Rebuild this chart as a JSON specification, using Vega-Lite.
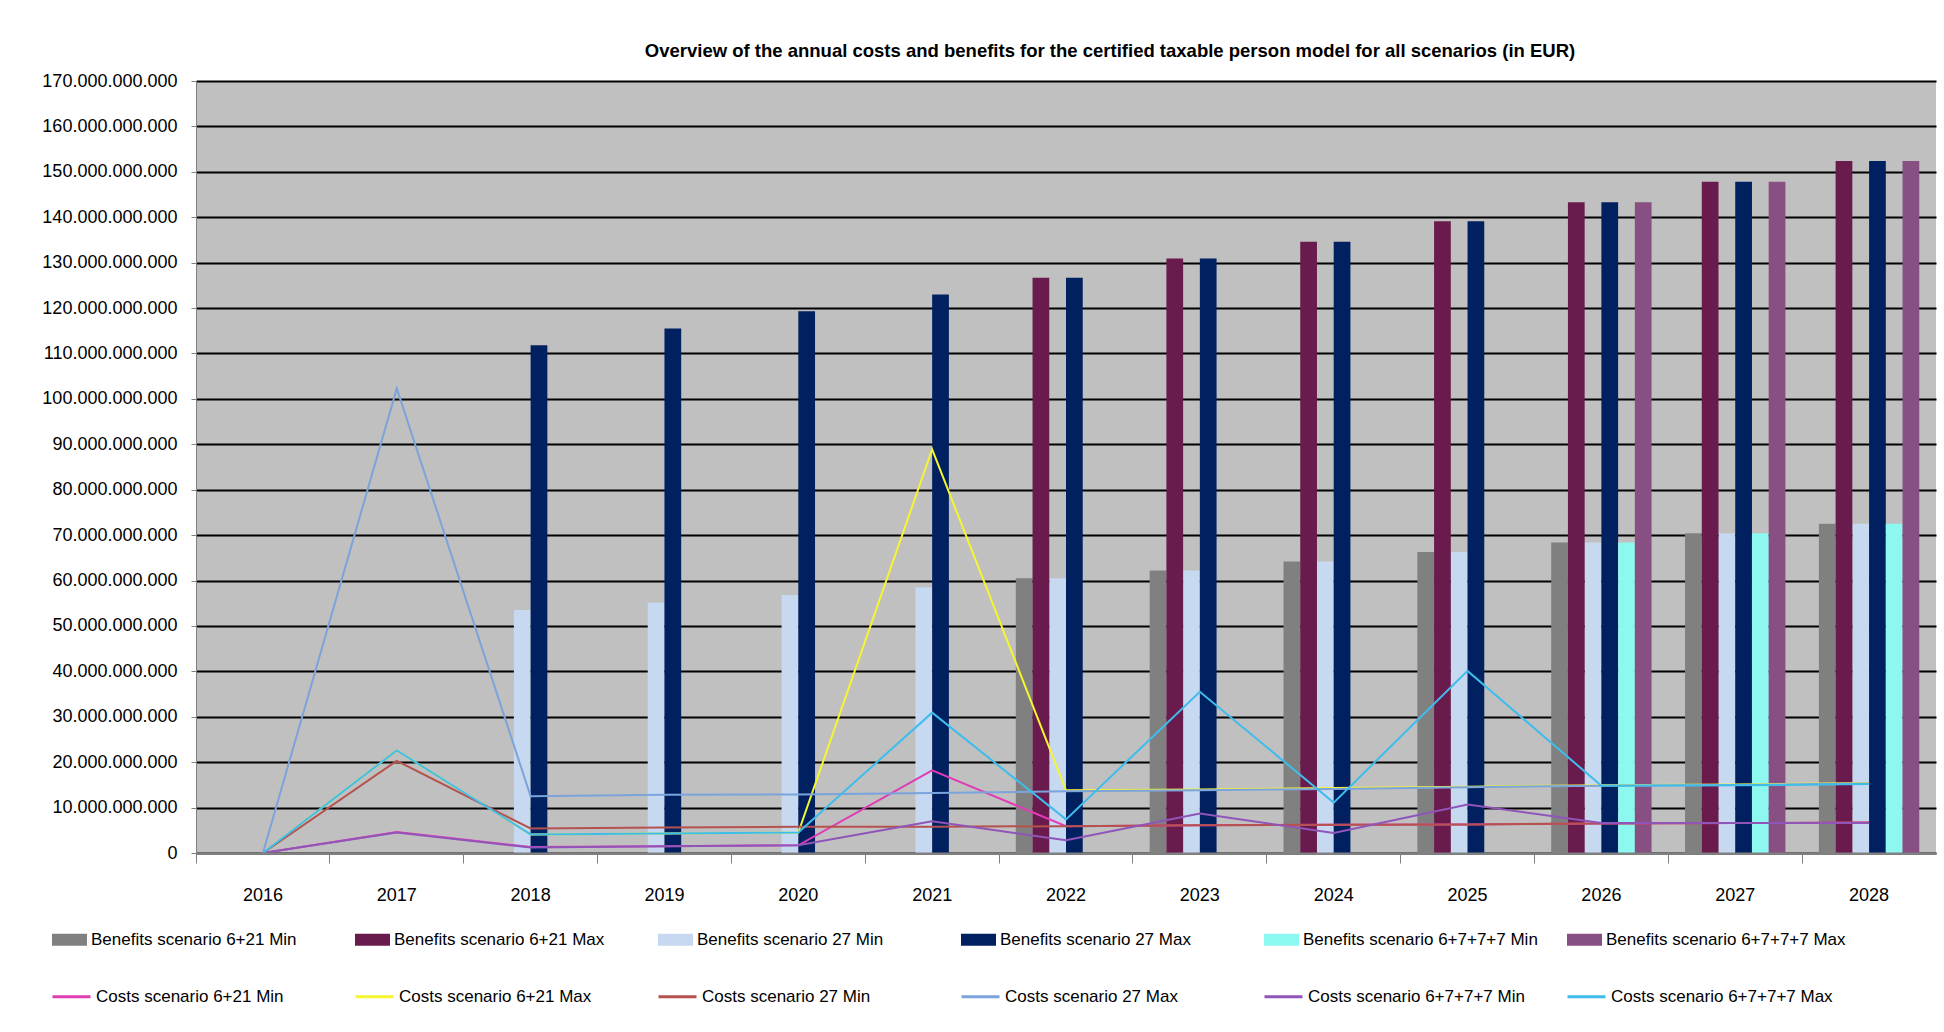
{
  "$schema": "https://vega.github.io/schema/vega-lite/v6.json",
  "autosize": "none",
  "width": 1740,
  "height": 772,
  "padding": {"left": 196, "top": 81, "right": 8, "bottom": 179},
  "background": "#ffffff",
  "config": {
    "locale": {"number": {"decimal": ",", "thousands": ".", "grouping": [3], "currency": ["", " €"]}},
    "view": {"fill": "#C0C0C0", "stroke": null},
    "font": "Liberation Sans"
  },
  "title": {
    "text": "Overview of the annual costs and benefits for the certified taxable person model for all scenarios (in EUR)",
    "font": "Liberation Sans",
    "fontSize": 18.5,
    "fontWeight": "bold",
    "color": "#000000",
    "anchor": "middle",
    "dx": 44,
    "offset": 12
  },
  "datasets": {
    "benefits": [
      {"year": "2018", "series": "Benefits scenario 27 Min", "value": 53500000000},
      {"year": "2019", "series": "Benefits scenario 27 Min", "value": 55100000000},
      {"year": "2020", "series": "Benefits scenario 27 Min", "value": 56800000000},
      {"year": "2021", "series": "Benefits scenario 27 Min", "value": 58500000000},
      {"year": "2022", "series": "Benefits scenario 27 Min", "value": 60500000000},
      {"year": "2023", "series": "Benefits scenario 27 Min", "value": 62200000000},
      {"year": "2024", "series": "Benefits scenario 27 Min", "value": 64200000000},
      {"year": "2025", "series": "Benefits scenario 27 Min", "value": 66300000000},
      {"year": "2026", "series": "Benefits scenario 27 Min", "value": 68400000000},
      {"year": "2027", "series": "Benefits scenario 27 Min", "value": 70400000000},
      {"year": "2028", "series": "Benefits scenario 27 Min", "value": 72500000000},
      {"year": "2018", "series": "Benefits scenario 27 Max", "value": 111800000000},
      {"year": "2019", "series": "Benefits scenario 27 Max", "value": 115500000000},
      {"year": "2020", "series": "Benefits scenario 27 Max", "value": 119300000000},
      {"year": "2021", "series": "Benefits scenario 27 Max", "value": 123000000000},
      {"year": "2022", "series": "Benefits scenario 27 Max", "value": 126700000000},
      {"year": "2023", "series": "Benefits scenario 27 Max", "value": 130900000000},
      {"year": "2024", "series": "Benefits scenario 27 Max", "value": 134600000000},
      {"year": "2025", "series": "Benefits scenario 27 Max", "value": 139100000000},
      {"year": "2026", "series": "Benefits scenario 27 Max", "value": 143300000000},
      {"year": "2027", "series": "Benefits scenario 27 Max", "value": 147800000000},
      {"year": "2028", "series": "Benefits scenario 27 Max", "value": 152400000000},
      {"year": "2022", "series": "Benefits scenario 6+21 Min", "value": 60500000000},
      {"year": "2023", "series": "Benefits scenario 6+21 Min", "value": 62200000000},
      {"year": "2024", "series": "Benefits scenario 6+21 Min", "value": 64200000000},
      {"year": "2025", "series": "Benefits scenario 6+21 Min", "value": 66300000000},
      {"year": "2026", "series": "Benefits scenario 6+21 Min", "value": 68400000000},
      {"year": "2027", "series": "Benefits scenario 6+21 Min", "value": 70400000000},
      {"year": "2028", "series": "Benefits scenario 6+21 Min", "value": 72500000000},
      {"year": "2022", "series": "Benefits scenario 6+21 Max", "value": 126700000000},
      {"year": "2023", "series": "Benefits scenario 6+21 Max", "value": 130900000000},
      {"year": "2024", "series": "Benefits scenario 6+21 Max", "value": 134600000000},
      {"year": "2025", "series": "Benefits scenario 6+21 Max", "value": 139100000000},
      {"year": "2026", "series": "Benefits scenario 6+21 Max", "value": 143300000000},
      {"year": "2027", "series": "Benefits scenario 6+21 Max", "value": 147800000000},
      {"year": "2028", "series": "Benefits scenario 6+21 Max", "value": 152400000000},
      {"year": "2026", "series": "Benefits scenario 6+7+7+7 Min", "value": 68400000000},
      {"year": "2027", "series": "Benefits scenario 6+7+7+7 Min", "value": 70400000000},
      {"year": "2028", "series": "Benefits scenario 6+7+7+7 Min", "value": 72500000000},
      {"year": "2026", "series": "Benefits scenario 6+7+7+7 Max", "value": 143300000000},
      {"year": "2027", "series": "Benefits scenario 6+7+7+7 Max", "value": 147800000000},
      {"year": "2028", "series": "Benefits scenario 6+7+7+7 Max", "value": 152400000000}
    ],
    "costs": [
      {"year": "2016", "series": "Costs scenario 6+21 Min", "value": 0},
      {"year": "2017", "series": "Costs scenario 6+21 Min", "value": 4600000000},
      {"year": "2018", "series": "Costs scenario 6+21 Min", "value": 1300000000},
      {"year": "2019", "series": "Costs scenario 6+21 Min", "value": 1500000000},
      {"year": "2020", "series": "Costs scenario 6+21 Min", "value": 1700000000},
      {"year": "2021", "series": "Costs scenario 6+21 Min", "value": 18200000000},
      {"year": "2022", "series": "Costs scenario 6+21 Min", "value": 5900000000},
      {"year": "2023", "series": "Costs scenario 6+21 Min", "value": 6100000000},
      {"year": "2024", "series": "Costs scenario 6+21 Min", "value": 6200000000},
      {"year": "2025", "series": "Costs scenario 6+21 Min", "value": 6300000000},
      {"year": "2026", "series": "Costs scenario 6+21 Min", "value": 6500000000},
      {"year": "2027", "series": "Costs scenario 6+21 Min", "value": 6600000000},
      {"year": "2028", "series": "Costs scenario 6+21 Min", "value": 6700000000},
      {"year": "2016", "series": "Costs scenario 6+21 Max", "value": 0},
      {"year": "2017", "series": "Costs scenario 6+21 Max", "value": 22600000000},
      {"year": "2018", "series": "Costs scenario 6+21 Max", "value": 4100000000},
      {"year": "2019", "series": "Costs scenario 6+21 Max", "value": 4300000000},
      {"year": "2020", "series": "Costs scenario 6+21 Max", "value": 4500000000},
      {"year": "2021", "series": "Costs scenario 6+21 Max", "value": 88900000000},
      {"year": "2022", "series": "Costs scenario 6+21 Max", "value": 13800000000},
      {"year": "2023", "series": "Costs scenario 6+21 Max", "value": 14000000000},
      {"year": "2024", "series": "Costs scenario 6+21 Max", "value": 14300000000},
      {"year": "2025", "series": "Costs scenario 6+21 Max", "value": 14600000000},
      {"year": "2026", "series": "Costs scenario 6+21 Max", "value": 14900000000},
      {"year": "2027", "series": "Costs scenario 6+21 Max", "value": 15100000000},
      {"year": "2028", "series": "Costs scenario 6+21 Max", "value": 15400000000},
      {"year": "2016", "series": "Costs scenario 27 Min", "value": 0},
      {"year": "2017", "series": "Costs scenario 27 Min", "value": 20300000000},
      {"year": "2018", "series": "Costs scenario 27 Min", "value": 5400000000},
      {"year": "2019", "series": "Costs scenario 27 Min", "value": 5600000000},
      {"year": "2020", "series": "Costs scenario 27 Min", "value": 5800000000},
      {"year": "2021", "series": "Costs scenario 27 Min", "value": 5800000000},
      {"year": "2022", "series": "Costs scenario 27 Min", "value": 5900000000},
      {"year": "2023", "series": "Costs scenario 27 Min", "value": 6100000000},
      {"year": "2024", "series": "Costs scenario 27 Min", "value": 6200000000},
      {"year": "2025", "series": "Costs scenario 27 Min", "value": 6300000000},
      {"year": "2026", "series": "Costs scenario 27 Min", "value": 6500000000},
      {"year": "2027", "series": "Costs scenario 27 Min", "value": 6600000000},
      {"year": "2028", "series": "Costs scenario 27 Min", "value": 6700000000},
      {"year": "2016", "series": "Costs scenario 27 Max", "value": 0},
      {"year": "2017", "series": "Costs scenario 27 Max", "value": 102300000000},
      {"year": "2018", "series": "Costs scenario 27 Max", "value": 12500000000},
      {"year": "2019", "series": "Costs scenario 27 Max", "value": 12800000000},
      {"year": "2020", "series": "Costs scenario 27 Max", "value": 12900000000},
      {"year": "2021", "series": "Costs scenario 27 Max", "value": 13200000000},
      {"year": "2022", "series": "Costs scenario 27 Max", "value": 13600000000},
      {"year": "2023", "series": "Costs scenario 27 Max", "value": 13800000000},
      {"year": "2024", "series": "Costs scenario 27 Max", "value": 14100000000},
      {"year": "2025", "series": "Costs scenario 27 Max", "value": 14500000000},
      {"year": "2026", "series": "Costs scenario 27 Max", "value": 14800000000},
      {"year": "2027", "series": "Costs scenario 27 Max", "value": 15000000000},
      {"year": "2028", "series": "Costs scenario 27 Max", "value": 15300000000},
      {"year": "2016", "series": "Costs scenario 6+7+7+7 Min", "value": 0},
      {"year": "2017", "series": "Costs scenario 6+7+7+7 Min", "value": 4500000000},
      {"year": "2018", "series": "Costs scenario 6+7+7+7 Min", "value": 1200000000},
      {"year": "2019", "series": "Costs scenario 6+7+7+7 Min", "value": 1500000000},
      {"year": "2020", "series": "Costs scenario 6+7+7+7 Min", "value": 1700000000},
      {"year": "2021", "series": "Costs scenario 6+7+7+7 Min", "value": 7000000000},
      {"year": "2022", "series": "Costs scenario 6+7+7+7 Min", "value": 2800000000},
      {"year": "2023", "series": "Costs scenario 6+7+7+7 Min", "value": 8700000000},
      {"year": "2024", "series": "Costs scenario 6+7+7+7 Min", "value": 4400000000},
      {"year": "2025", "series": "Costs scenario 6+7+7+7 Min", "value": 10700000000},
      {"year": "2026", "series": "Costs scenario 6+7+7+7 Min", "value": 6600000000},
      {"year": "2027", "series": "Costs scenario 6+7+7+7 Min", "value": 6600000000},
      {"year": "2028", "series": "Costs scenario 6+7+7+7 Min", "value": 6600000000},
      {"year": "2016", "series": "Costs scenario 6+7+7+7 Max", "value": 0},
      {"year": "2017", "series": "Costs scenario 6+7+7+7 Max", "value": 22600000000},
      {"year": "2018", "series": "Costs scenario 6+7+7+7 Max", "value": 4100000000},
      {"year": "2019", "series": "Costs scenario 6+7+7+7 Max", "value": 4300000000},
      {"year": "2020", "series": "Costs scenario 6+7+7+7 Max", "value": 4500000000},
      {"year": "2021", "series": "Costs scenario 6+7+7+7 Max", "value": 30900000000},
      {"year": "2022", "series": "Costs scenario 6+7+7+7 Max", "value": 7400000000},
      {"year": "2023", "series": "Costs scenario 6+7+7+7 Max", "value": 35500000000},
      {"year": "2024", "series": "Costs scenario 6+7+7+7 Max", "value": 11100000000},
      {"year": "2025", "series": "Costs scenario 6+7+7+7 Max", "value": 40100000000},
      {"year": "2026", "series": "Costs scenario 6+7+7+7 Max", "value": 14800000000},
      {"year": "2027", "series": "Costs scenario 6+7+7+7 Max", "value": 14900000000},
      {"year": "2028", "series": "Costs scenario 6+7+7+7 Max", "value": 15200000000}
    ]
  },
  "layer": [
    {
      "data": {"name": "benefits"},
      "mark": {"type": "bar"},
      "encoding": {
        "x": {
          "field": "year", "type": "ordinal",
          "scale": {"domain": ["2016","2017","2018","2019","2020","2021","2022","2023","2024","2025","2026","2027","2028"], "paddingInner": 0, "paddingOuter": 0},
          "axis": {
            "title": null, "labelAngle": 0, "bandPosition": 0,
            "labelFontSize": 18, "labelColor": "#000000", "labelPadding": 23,
            "tickSize": 10, "tickColor": "#808080", "domainColor": "#808080", "domainWidth": 2,
            "zindex": 1, "grid": false
          }
        },
        "xOffset": {
          "field": "series", "type": "nominal",
          "scale": {"domain": ["Benefits scenario 6+21 Min","Benefits scenario 6+21 Max","Benefits scenario 27 Min","Benefits scenario 27 Max","Benefits scenario 6+7+7+7 Min","Benefits scenario 6+7+7+7 Max"], "paddingInner": 0, "paddingOuter": 1.68}
        },
        "y": {
          "field": "value", "type": "quantitative",
          "scale": {"domain": [0, 170000000000], "nice": false},
          "axis": {
            "title": null, "format": ",d",
            "values": [0,10000000000,20000000000,30000000000,40000000000,50000000000,60000000000,70000000000,80000000000,90000000000,100000000000,110000000000,120000000000,130000000000,140000000000,150000000000,160000000000,170000000000],
            "labelFontSize": 18, "labelColor": "#000000", "labelPadding": 14,
            "tickSize": 5, "tickColor": "#808080", "domainColor": "#808080",
            "grid": true, "gridColor": "#000000", "gridWidth": 2
          }
        },
        "fill": {
          "field": "series", "type": "nominal",
          "scale": {
            "domain": ["Benefits scenario 6+21 Min","Benefits scenario 6+21 Max","Benefits scenario 27 Min","Benefits scenario 27 Max","Benefits scenario 6+7+7+7 Min","Benefits scenario 6+7+7+7 Max"],
            "range": ["#808080","#6A1B4D","#C6D9F0","#002060","#8DF8F0","#874F82"]
          },
          "legend": {
            "title": null, "orient": "none", "direction": "horizontal", "columns": 6,
            "legendX": -144, "legendY": 841, "padding": 0, "gridAlign": "all",
            "columnPadding": 24,
            "symbolType": "M-1,-0.34L1,-0.34L1,0.34L-1,0.34Z", "symbolSize": 1225,
            "symbolStrokeWidth": 0, "labelFontSize": 17, "labelColor": "#000000",
            "labelOffset": 4, "labelLimit": 400
          }
        }
      }
    },
    {
      "data": {"name": "costs"},
      "mark": {"type": "line", "strokeWidth": 2},
      "encoding": {
        "x": {"field": "year", "type": "ordinal"},
        "y": {"field": "value", "type": "quantitative"},
        "stroke": {
          "field": "series", "type": "nominal",
          "scale": {
            "domain": ["Costs scenario 6+21 Min","Costs scenario 6+21 Max","Costs scenario 27 Min","Costs scenario 27 Max","Costs scenario 6+7+7+7 Min","Costs scenario 6+7+7+7 Max"],
            "range": ["#E03CB4","#F5F530","#B5524E","#7BA3DC","#9055B8","#3EBDEC"]
          },
          "legend": {
            "title": null, "orient": "none", "direction": "horizontal", "columns": 6,
            "legendX": -145, "legendY": 895, "padding": 0, "gridAlign": "all",
            "columnPadding": 31,
            "symbolType": "stroke", "symbolSize": 1444, "symbolStrokeWidth": 3,
            "labelFontSize": 17, "labelColor": "#000000",
            "labelOffset": 4, "labelLimit": 400
          }
        }
      }
    }
  ]
}
